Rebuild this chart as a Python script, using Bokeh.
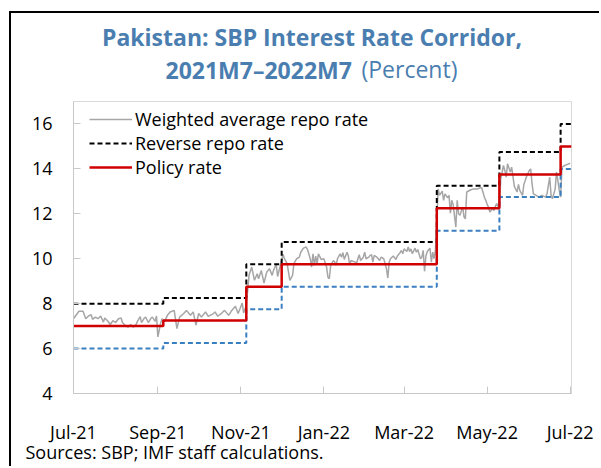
import pandas as pd
from bokeh.plotting import figure
from bokeh.models import Range1d, FixedTicker, Legend, LegendItem, DatetimeTickFormatter, Title
from bokeh.embed import file_html
from bokeh.resources import INLINE

FONT = "Open Sans"

# ---- data ----
step_dates = ["2021-07-01", "2021-09-05", "2021-11-05", "2021-12-01",
              "2022-03-25", "2022-05-10", "2022-06-24", "2022-07-02"]
policy_rate = [7.00, 7.25, 8.75, 9.75, 12.25, 13.75, 15.00, 15.00]
reverse_repo_rate = [8.00, 8.25, 9.75, 10.75, 13.25, 14.75, 16.00, 16.00]
repo_rate = [6.00, 6.25, 7.75, 8.75, 11.25, 12.75, 14.00, 14.00]

wavg_dates = [
    "2021-07-01", "2021-07-05", "2021-07-08", "2021-07-10", "2021-07-12", "2021-07-14", "2021-07-15",
    "2021-07-17", "2021-07-19", "2021-07-21", "2021-07-23", "2021-07-24", "2021-07-26", "2021-07-28",
    "2021-07-30", "2021-08-01", "2021-08-03", "2021-08-05", "2021-08-06", "2021-08-08", "2021-08-10",
    "2021-08-12", "2021-08-14", "2021-08-16", "2021-08-17", "2021-08-19", "2021-08-20", "2021-08-22",
    "2021-08-23", "2021-08-25", "2021-08-27", "2021-08-28", "2021-08-30", "2021-08-31", "2021-09-01",
    "2021-09-03", "2021-09-04", "2021-09-06", "2021-09-08", "2021-09-10", "2021-09-13", "2021-09-15",
    "2021-09-17", "2021-09-20", "2021-09-22", "2021-09-25", "2021-09-27", "2021-09-29", "2021-10-01",
    "2021-10-03", "2021-10-06", "2021-10-08", "2021-10-11", "2021-10-13", "2021-10-15", "2021-10-18",
    "2021-10-20", "2021-10-23", "2021-10-25", "2021-10-28", "2021-10-30", "2021-11-02", "2021-11-03",
    "2021-11-05", "2021-11-07", "2021-11-09", "2021-11-11", "2021-11-13", "2021-11-14", "2021-11-16",
    "2021-11-18", "2021-11-20", "2021-11-22", "2021-11-24", "2021-11-25", "2021-11-27", "2021-11-28",
    "2021-11-30", "2021-12-02", "2021-12-03", "2021-12-05", "2021-12-07", "2021-12-09", "2021-12-10",
    "2021-12-12", "2021-12-14", "2021-12-15", "2021-12-17", "2021-12-19", "2021-12-20", "2021-12-22",
    "2021-12-23", "2021-12-24", "2021-12-25", "2021-12-26", "2021-12-27", "2021-12-28", "2021-12-30",
    "2022-01-01", "2022-01-03", "2022-01-04", "2022-01-05", "2022-01-06", "2022-01-08", "2022-01-09",
    "2022-01-10", "2022-01-11", "2022-01-13", "2022-01-14", "2022-01-15", "2022-01-16", "2022-01-18",
    "2022-01-19", "2022-01-20", "2022-01-21", "2022-01-24", "2022-01-25", "2022-01-26", "2022-01-27",
    "2022-01-28", "2022-01-30", "2022-01-31", "2022-02-01", "2022-02-03", "2022-02-04", "2022-02-05",
    "2022-02-06", "2022-02-07", "2022-02-09", "2022-02-11", "2022-02-12", "2022-02-14", "2022-02-15",
    "2022-02-16", "2022-02-17", "2022-02-18", "2022-02-19", "2022-02-21", "2022-02-23", "2022-02-24",
    "2022-02-26", "2022-02-27", "2022-02-28", "2022-03-01", "2022-03-03", "2022-03-04", "2022-03-05",
    "2022-03-06", "2022-03-07", "2022-03-09", "2022-03-10", "2022-03-11", "2022-03-13", "2022-03-14",
    "2022-03-15", "2022-03-16", "2022-03-17", "2022-03-18", "2022-03-20", "2022-03-21", "2022-03-22",
    "2022-03-23", "2022-03-24", "2022-03-26", "2022-03-27", "2022-03-29", "2022-03-30", "2022-03-31",
    "2022-04-02", "2022-04-03", "2022-04-04", "2022-04-05", "2022-04-06", "2022-04-08", "2022-04-09",
    "2022-04-10", "2022-04-11", "2022-04-13", "2022-04-14", "2022-04-15", "2022-04-16", "2022-04-19",
    "2022-04-21", "2022-04-24", "2022-04-26", "2022-04-27", "2022-04-29", "2022-04-30", "2022-05-01",
    "2022-05-02", "2022-05-03", "2022-05-05", "2022-05-06", "2022-05-07", "2022-05-08", "2022-05-10",
    "2022-05-11", "2022-05-13", "2022-05-14", "2022-05-15", "2022-05-16", "2022-05-18", "2022-05-19",
    "2022-05-21", "2022-05-23", "2022-05-24", "2022-05-25", "2022-05-27", "2022-05-28", "2022-05-29",
    "2022-05-30", "2022-06-01", "2022-06-02", "2022-06-03", "2022-06-04", "2022-06-06", "2022-06-08",
    "2022-06-10", "2022-06-13", "2022-06-14", "2022-06-16", "2022-06-17", "2022-06-18", "2022-06-20",
    "2022-06-21", "2022-06-22", "2022-06-23", "2022-06-24", "2022-06-25", "2022-06-27", "2022-06-29",
    "2022-07-01",
]
wavg_rate = [
    7.33, 7.66, 7.66, 7.33, 7.45, 7.51, 7.30,
    7.40, 7.33, 7.45, 7.18, 7.36, 7.24, 7.07,
    7.24, 7.16, 7.33, 7.36, 7.16, 7.03, 6.95,
    7.07, 6.95, 7.07, 7.21, 7.42, 7.16, 7.36,
    7.40, 7.16, 7.36, 7.40, 7.21, 7.45, 6.52,
    7.11, 7.33, 7.21, 7.48, 7.63, 7.70, 6.89,
    7.40, 7.56, 7.70, 7.48, 7.63, 7.04, 7.56,
    7.40, 7.63, 7.44, 7.52, 7.63, 7.44, 7.58,
    7.70, 7.48, 7.67, 7.88, 7.56, 8.03, 7.58,
    7.92, 9.26, 9.63, 9.04, 9.33, 9.11, 9.48,
    8.92, 9.40, 9.56, 9.26, 9.48, 9.75, 9.21,
    9.70, 10.20, 10.00, 9.78, 9.04, 9.26, 9.78,
    10.00, 10.07, 10.29, 10.47, 10.52, 10.41, 10.00,
    9.63, 10.22, 9.70, 10.12, 9.78, 10.22, 9.97,
    10.00, 9.63, 9.18, 9.11, 9.70, 9.92, 9.85,
    9.70, 10.00, 10.22, 10.07, 10.27, 9.97, 10.29,
    10.12, 9.73, 9.92, 9.85, 9.78, 10.00, 10.18,
    9.92, 10.07, 10.29, 10.00, 10.07, 10.15, 10.18,
    9.85, 10.15, 10.07, 9.92, 10.07, 10.00, 9.78,
    9.56, 9.14, 9.85, 10.00, 10.12, 9.97, 10.12,
    10.27, 10.37, 10.22, 10.44, 10.32, 10.52, 10.32,
    10.44, 10.22, 10.47, 10.29, 10.41, 10.00, 10.07,
    10.37, 9.44, 10.12, 10.32, 10.47, 9.85, 10.29,
    10.00, 10.37, 13.11, 12.82, 13.01, 12.60, 12.89,
    12.71, 12.82, 12.03, 12.60, 12.42, 11.41, 12.60,
    12.00, 11.93, 12.30, 11.86, 11.78, 12.97, 13.07,
    13.11, 13.11, 13.16, 13.16, 12.74, 12.60, 12.42,
    12.30, 12.08, 12.23, 12.15, 12.33, 12.45, 12.23,
    13.56, 14.15, 13.93, 13.63, 14.23, 13.86, 14.08,
    13.22, 12.97, 13.31, 13.04, 12.82, 13.31, 13.48,
    13.66, 13.93, 14.00, 13.34, 12.89, 12.82, 12.74,
    12.82, 12.74, 12.89, 13.63, 12.82, 12.67, 13.11,
    13.86, 13.48, 13.04, 12.74, 14.08, 14.15, 14.20,
    14.25,
]

x_tick_dates = ["2021-07-01", "2021-09-01", "2021-11-01", "2022-01-01",
                "2022-03-01", "2022-05-01", "2022-07-01"]
x_tick_labels = ["Jul-21", "Sep-21", "Nov-21", "Jan-22", "Mar-22", "May-22", "Jul-22"]
y_ticks = [4, 6, 8, 10, 12, 14, 16]

title_line1 = "Pakistan: SBP Interest Rate Corridor,"
title_line2_bold = "2021M7\u20132022M7"
title_line2_unit = "(Percent)"
source_note = "Sources: SBP; IMF staff calculations."

# ---- figure ----
W, H = 590, 455
p = figure(width=W, height=H, x_axis_type="datetime", output_backend="svg",
           toolbar_location=None, title=None,
           x_range=Range1d(pd.Timestamp("2021-07-01"), pd.Timestamp("2022-07-02")),
           y_range=Range1d(4, 17),
           min_border_left=62, min_border_right=30, min_border_top=88, min_border_bottom=75)
p.styles = {"border-left": "2px solid black", "border-top": "2px solid black",
            "margin-top": "11px", "margin-left": "9px"}
p.background_fill_color = "white"
p.border_fill_color = "white"
p.outline_line_color = "#d9d9d9"
p.outline_line_width = 1
p.xgrid.visible = False
p.ygrid.visible = False

sd = pd.to_datetime(step_dates)
wd = pd.to_datetime(wavg_dates)

r_wavg = p.line(wd, wavg_rate, line_color="#a6a6a6", line_width=1.5)
r_repo = p.step(sd, repo_rate, mode="after", line_color="#3a7fc1", line_width=2, line_dash="5 3")
r_rev = p.step(sd, reverse_repo_rate, mode="after", line_color="black", line_width=2, line_dash="5 3")
r_pol = p.step(sd, policy_rate, mode="after", line_color="#d00000", line_width=2.5)

legend = Legend(items=[LegendItem(label="Weighted average repo rate", renderers=[r_wavg]),
                       LegendItem(label="Reverse repo rate", renderers=[r_rev]),
                       LegendItem(label="Policy rate", renderers=[r_pol])],
                location=(16, 214), padding=0, margin=0, spacing=-1,
                glyph_width=43, glyph_height=22, label_height=22, label_standoff=3,
                label_text_font=FONT, label_text_font_size="18px", label_text_color="black",
                border_line_alpha=0, background_fill_alpha=0)
p.add_layout(legend)

# axes
tick_ms = [float(pd.Timestamp(d).value // 10**6) for d in x_tick_dates]
p.xaxis.ticker = FixedTicker(ticks=tick_ms)
p.xaxis.formatter = DatetimeTickFormatter(days="%b-%y", months="%b-%y", years="%b-%y")
p.xaxis.major_label_overrides = {t: lab for t, lab in zip(tick_ms, x_tick_labels)}
p.yaxis.ticker = FixedTicker(ticks=y_ticks)
for ax in (p.xaxis[0], p.yaxis[0]):
    ax.axis_line_color = "#c8c8c8"
    ax.major_tick_line_color = "#c8c8c8"
    ax.major_tick_in = 7
    ax.major_tick_out = 0
    ax.minor_tick_line_color = None
    ax.major_label_text_font = FONT
    ax.major_label_text_font_size = "18px"
    ax.major_label_text_color = "black"
p.xaxis.major_label_standoff = 26
p.yaxis.major_label_standoff = 21

# titles (stacked outward from the frame: line 2 bold, line 1, then "(Percent)" pulled back onto line 2)
TITLE_COLOR = "#4a7eb0"
t_bold = Title(text=title_line2_bold, align="left", offset=92, standoff=31,
               text_font=FONT, text_font_size="23px", text_font_style="bold", text_color=TITLE_COLOR)
t_main = Title(text=title_line1, align="left", offset=28.5, standoff=-32,
               text_font=FONT, text_font_size="23px", text_font_style="bold", text_color=TITLE_COLOR)
t_unit = Title(text=title_line2_unit, align="left", offset=288, standoff=-100,
               text_font=FONT, text_font_size="23px", text_font_style="normal", text_color=TITLE_COLOR)
p.add_layout(t_bold, "above")
p.add_layout(t_main, "above")
p.add_layout(t_unit, "above")
t_src = Title(text=source_note, align="left", offset=-48, standoff=-17,
              text_font=FONT, text_font_size="18px", text_font_style="normal", text_color="black")
p.add_layout(t_src, "below")

open("out.html", "w").write(file_html(p, INLINE))
